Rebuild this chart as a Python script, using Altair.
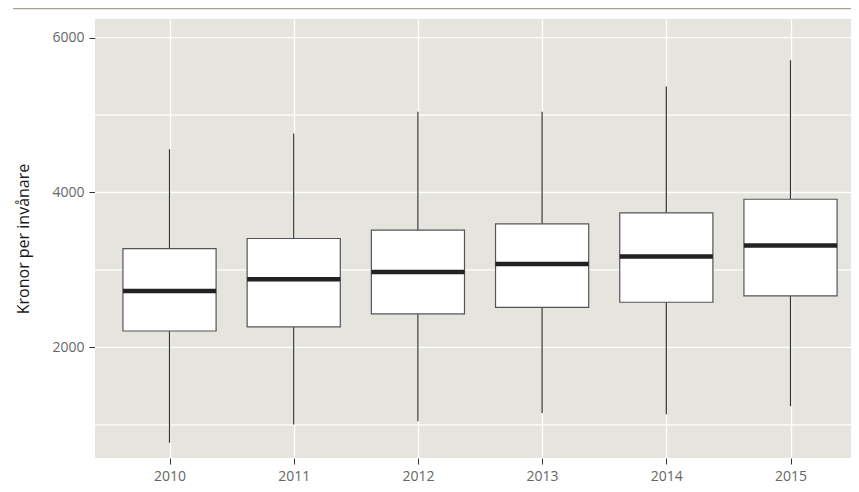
import altair as alt
import pandas as pd

years = [2010, 2011, 2012, 2013, 2014, 2015]
whisker_low = [770, 1003, 1045, 1153, 1136, 1239]
q1 = [2212, 2264, 2432, 2518, 2583, 2664]
median = [2729, 2880, 2974, 3078, 3173, 3315]
q3 = [3276, 3406, 3513, 3595, 3737, 3913]
whisker_high = [4559, 4762, 5041, 5041, 5369, 5709]
grid_values = [1000, 2000, 3000, 4000, 5000, 6000]
y_tick_values = [2000, 4000, 6000]

df = pd.DataFrame({
    "year": years, "lo": whisker_low, "q1": q1, "med": median,
    "q3": q3, "hi": whisker_high,
})
grid_df = pd.DataFrame({"g": grid_values})

xscale = alt.Scale(domain=[2009.4, 2015.487], nice=False, zero=False)
yscale = alt.Scale(domain=[572, 6240], nice=False, zero=False)

xaxis = alt.Axis(values=years, format="d", title=None, grid=True, gridColor="white",
                 gridWidth=1.3, domain=False, tickColor="#333333", tickSize=6,
                 labelColor="#666666", labelFontSize=14, labelFont="Open Sans",
                 labelPadding=5, labelBaseline="top")
yaxis = alt.Axis(values=y_tick_values, format="d", title="Kronor per invånare", grid=False,
                 domain=False, tickColor="#333333", tickSize=6, labelColor="#666666",
                 labelFontSize=14, labelFont="Open Sans", labelPadding=5,
                 titleFont="Open Sans", titleFontSize=16, titleFontWeight="normal",
                 titleColor="#1a1a1a", titlePadding=20)

base = alt.Chart(df)

hgrid = alt.Chart(grid_df).mark_rule(color="white", strokeWidth=1.3).encode(
    y=alt.Y("g:Q", scale=yscale, axis=yaxis),
)

whisk = base.mark_rule(color="#333333", strokeWidth=1.2).encode(
    x=alt.X("year:Q", scale=xscale, axis=xaxis),
    y=alt.Y("lo:Q", scale=yscale),
    y2="hi:Q",
)

box = base.transform_calculate(
    xl="datum.year - 0.375", xr="datum.year + 0.375"
).mark_bar(fill="white", stroke="#555555", strokeWidth=1.2).encode(
    x=alt.X("xl:Q", scale=xscale),
    x2="xr:Q",
    y=alt.Y("q1:Q", scale=yscale),
    y2="q3:Q",
)

med = base.transform_calculate(
    xl="datum.year - 0.375", xr="datum.year + 0.375"
).mark_rule(color="#222222", strokeWidth=4.5).encode(
    x=alt.X("xl:Q", scale=xscale),
    x2="xr:Q",
    y=alt.Y("med:Q", scale=yscale),
)

topline = alt.Chart(pd.DataFrame({"a": [0]})).mark_rule(color="#a89f92", strokeWidth=1.5).encode(
    x=alt.value(-82), x2=alt.value(756), y=alt.value(-10.5),
)

chart = alt.layer(hgrid, whisk, box, med, topline).properties(
    width=756, height=439,
    background="white",
    autosize=alt.AutoSizeParams(type="none"),
    padding={"left": 87, "top": 11, "right": 0, "bottom": 26},
).configure_view(fill="#e5e4de", strokeWidth=0)

chart.save("out.html", embed_options={"renderer": "svg", "actions": False})
